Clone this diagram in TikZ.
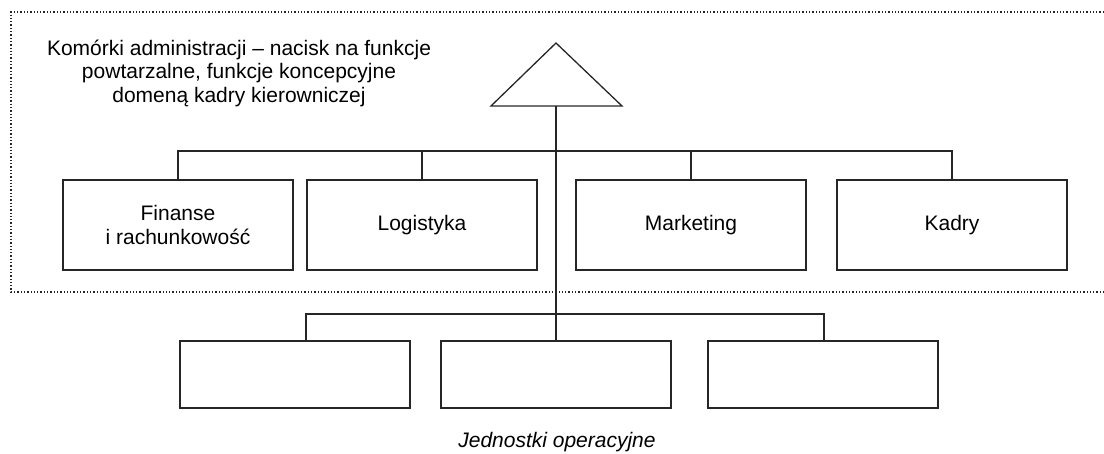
\documentclass[tikz,border=0pt]{standalone}
\usepackage{fontspec}
\setmainfont{Liberation Sans}
\usetikzlibrary{positioning,shapes.geometric}

\begin{document}
\begin{tikzpicture}[x=1pt,y=-1pt,
	unitbox/.style={draw=black!85, line width=1.6pt, minimum width=230pt, minimum height=90pt, align=center, inner sep=0pt, font=\fontsize{21}{23.5}\selectfont},
	opbox/.style={unitbox, minimum height=67pt},
	link/.style={draw=black!85, line width=1.3pt}]
	\useasboundingbox (0,0) rectangle (1104,454);

	% administration frame (right side runs off the page)
	\draw[black!85, line width=1.3pt, dotted] (1104,12) -- (11,12) -- (11,292) -- (1104,292);
	\node[align=center, font=\fontsize{21}{23.5}\selectfont] (note) at (239,73) {Komórki administracji -- nacisk na funkcje\\powtarzalne, funkcje koncepcyjne\\domeną kadry kierowniczej};

	% top of the hierarchy
	\coordinate (apex) at (556,43);
	\coordinate (tribase) at (556,106);
	\draw[link, line join=miter] (apex) -- (491,106) -- (622,106) -- cycle;

	% administration units
	\node[unitbox] (fin) at (178,225) {Finanse\\i rachunkowość};
	\node[unitbox] (log) at (422,225) {Logistyka};
	\node[unitbox] (mkt) at (691,225) {Marketing};
	\node[unitbox] (kad) at (952,225) {Kadry};

	% operational units
	\node[opbox] (op1) at (295,374.5) {};
	\node[opbox] (op2) at (556,374.5) {};
	\node[opbox] (op3) at (823,374.5) {};
	\node[font=\fontsize{21}{23.5}\selectfont\itshape] (oplabel) at (557,442) {Jednostki operacyjne};

	\coordinate (adminbus) at (556,151);
	\coordinate (opbus) at (556,314);
	\draw[link] (tribase) -- (op2.north);
	\draw[link] (fin.north) |- (adminbus) -| (kad.north);
	\draw[link] (log.north) -- (log.north |- adminbus);
	\draw[link] (mkt.north) -- (mkt.north |- adminbus);
	\draw[link] ([xshift=11pt]op1.north) |- (opbus) -| ([xshift=1pt]op3.north);
\end{tikzpicture}
\end{document}
